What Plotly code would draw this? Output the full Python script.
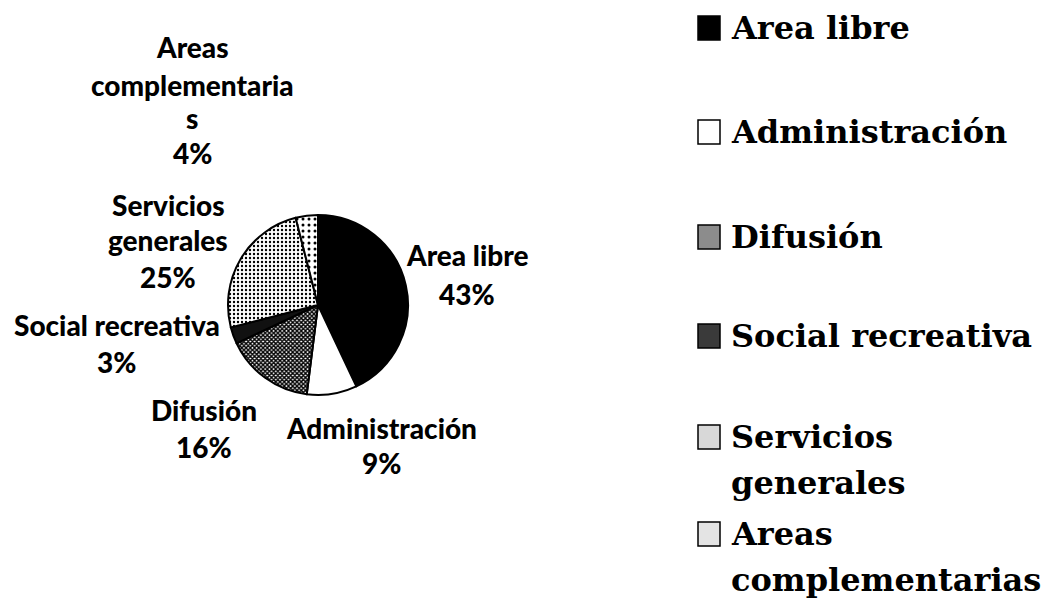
import plotly.graph_objects as go

# Distribución de superficies por zona (%)
categories = ["Area libre", "Administración", "Difusión", "Social recreativa",
              "Servicios generales", "Areas complementarias"]
values = [43, 9, 16, 3, 25, 4]

# Texto de las etiquetas del pastel (nombre partido en renglones)
pie_name_lines = [
    ["Area libre"],
    ["Administración"],
    ["Difusión"],
    ["Social recreativa"],
    ["Servicios", "generales"],
    ["Areas", "complementaria", "s"],
]
# Texto de la leyenda
legend_lines = [
    ["Area libre"],
    ["Administración"],
    ["Difusión"],
    ["Social recreativa"],
    ["Servicios", "generales"],
    ["Areas", "complementarias"],
]

W, H = 1052, 598

# Relleno de cada sector
fill_colors = ["#000000", "#ffffff", "#ffffff", "#111111", "#ffffff", "#ffffff"]
pattern_shapes = ["", "", "x", "", ".", "."]
pattern_sizes = [6, 6, 3, 6, 4, 6]
pattern_solid = [0.3, 0.3, 0.7, 0.3, 0.28, 0.2]
legend_box_colors = ["#000000", "#ffffff", "#8c8c8c", "#3a3a3a", "#d8d8d8", "#e4e4e4"]

# Geometría del pastel en píxeles
cx, cy, r = 318, 305, 90

fig = go.Figure(go.Pie(
    labels=categories,
    values=values,
    sort=False,
    direction="clockwise",
    rotation=0,
    textinfo="none",
    hoverinfo="label+percent",
    showlegend=False,
    marker=dict(
        colors=fill_colors,
        line=dict(color="#000000", width=2),
        pattern=dict(shape=pattern_shapes, size=pattern_sizes,
                     solidity=pattern_solid, fgcolor="#000000",
                     bgcolor=fill_colors, fillmode="replace"),
    ),
    domain=dict(x=[(cx - r) / W, (cx + r) / W],
                y=[(H - cy - r) / H, (H - cy + r) / H]),
))


def px(x):
    return x / W


def py(y):
    return 1 - y / H


annotations = []
label_font = dict(family="Lato, 'Open Sans', sans-serif", size=28,
                  weight=900, color="#000000")

# Centros (x) y renglones (y) de cada etiqueta de sector
label_pos = [
    (467, [255, 294]),
    (381, [428, 463]),
    (204, [410, 447]),
    (117, [325, 362]),
    (168, [205, 240, 277]),
    (192, [47, 85, 118, 153]),
]
for names, v, (lx, ys) in zip(pie_name_lines, values, label_pos):
    lines = names + [f"{v}%"]
    for text, ly in zip(lines, ys):
        annotations.append(dict(
            x=px(lx), y=py(ly), xref="paper", yref="paper",
            text=text, showarrow=False,
            xanchor="center", yanchor="middle", font=label_font))

# Leyenda
legend_font = dict(family="'DejaVu Serif', serif", size=32, weight="bold",
                   color="#000000")
legend_rows = [[28], [132], [237], [336], [437, 483], [534, 580]]
box_x0, box_x1, text_x = 698, 720, 729
shapes = []
for lines, ys, col in zip(legend_lines, legend_rows, legend_box_colors):
    y0 = ys[0]
    shapes.append(dict(type="rect", xref="paper", yref="paper",
                       x0=px(box_x0), x1=px(box_x1),
                       y0=py(y0 - 12), y1=py(y0 + 12),
                       fillcolor=col, line=dict(color="#000000", width=1.5)))
    for text, ly in zip(lines, ys):
        annotations.append(dict(
            x=px(text_x), y=py(ly), xref="paper", yref="paper",
            text=text, showarrow=False,
            xanchor="left", yanchor="middle", font=legend_font))

fig.update_layout(
    width=W, height=H,
    margin=dict(l=0, r=0, t=0, b=0),
    paper_bgcolor="#ffffff",
    plot_bgcolor="#ffffff",
    annotations=annotations,
    shapes=shapes,
)

fig.write_html("out.html")
